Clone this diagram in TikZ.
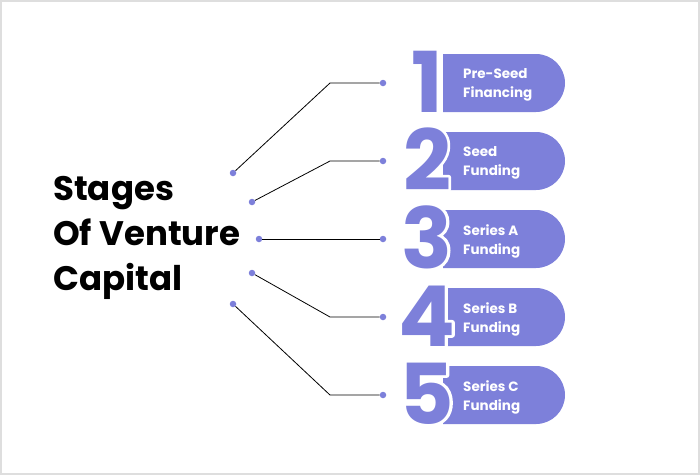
\documentclass[tikz,border=0pt]{standalone}
\usepackage{fontspec}
\setmainfont{Poppins}
\usepackage{tikz}
\usetikzlibrary{positioning, shapes.misc}

\definecolor{stage}{RGB}{125,128,218}
\definecolor{frame}{RGB}{222,222,222}

% stroked glyph outline for the big numbers
\newcommand\strokedigit[1]{\special{pdf:literal direct 1 Tr 5.4 w 1 j}#1\special{pdf:literal direct 0 Tr 1 w 0 j}}

\tikzset{
  pill/.style={fill=stage, shape=rounded rectangle, rounded rectangle left arc=none,
    minimum width=122pt, minimum height=58pt, inner sep=0pt},
  digit/.style={font=\bfseries\fontsize{84}{84}\selectfont, inner sep=0pt, anchor=base},
  label/.style={font=\bfseries\fontsize{13.5}{19}\selectfont, text=white, align=left, inner sep=0pt, anchor=west},
  dot/.style={circle, fill=stage, minimum size=6.5pt, inner sep=0pt},
  heading/.style={font=\bfseries\fontsize{34}{45}\selectfont, inner sep=0pt, anchor=base west}
}

\begin{document}
\begin{tikzpicture}[x=1pt, y=-1pt]

        \useasboundingbox (0,0) rectangle (700,475);
        \draw[frame, line width=2pt] (1,1) rectangle (699,474);

        % Title
        \node[heading] (st) at (53,200) {Stages};
        \node[heading] (ov) at (53,245) {Of Venture};
        \node[heading] (cp) at (53,290) {Capital};

        % Stages
        \foreach \i/\txt in {1/{Pre-Seed\\Financing}, 2/{Seed\\Funding}, 3/{Series A\\Funding},
                             4/{Series B\\Funding}, 5/{Series C\\Funding}} {
          \pgfmathsetmacro{\yy}{83+78*(\i-1)}
          \node[pill] (p\i) at (504,\yy) {};
          \node[digit, text=white] (w\i) at (427,\yy+29) {\strokedigit{\i}};
          \node[digit, text=stage] (d\i) at (427,\yy+29) {\i};
          \node[label] (t\i) at (463,\yy+2) {\txt};
          \node[dot] (r\i) at (383,\yy) {};
        }

        % Left dots
        \node[dot] (l1) at (233,173) {};
        \node[dot] (l2) at (252,202) {};
        \node[dot] (l3) at (259,239) {};
        \node[dot] (l4) at (252,273) {};
        \node[dot] (l5) at (233,304) {};

        % Lines
        \coordinate (k1) at (330,83);
        \coordinate (k2) at (330,161);
        \coordinate (k4) at (330,317);
        \coordinate (k5) at (330,395);
        \draw[line width=0.8pt] (l1) -- (k1) -- (r1);
        \draw[line width=0.8pt] (l2) -- (k2) -- (r2);
        \draw[line width=0.8pt] (l3) -- (r3);
        \draw[line width=0.8pt] (l4) -- (k4) -- (r4);
        \draw[line width=0.8pt] (l5) -- (k5) -- (r5);

      \end{tikzpicture}
\end{document}
